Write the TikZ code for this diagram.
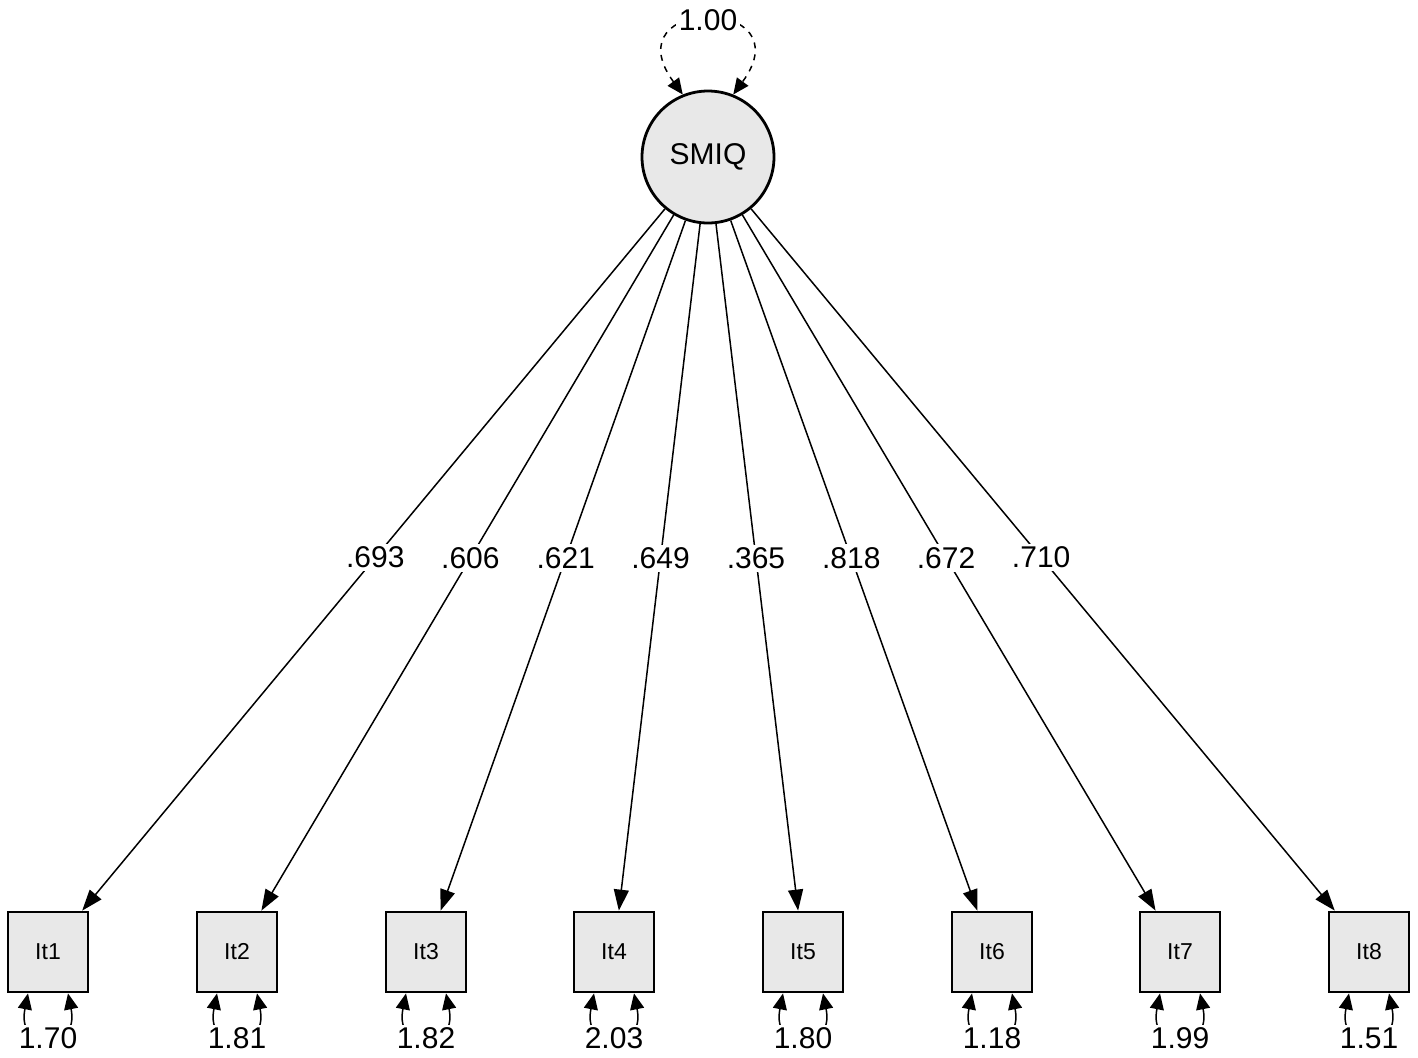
\documentclass[tikz,border=0pt]{standalone}
\usepackage{fontspec}
\setmainfont{Liberation Sans}
\usetikzlibrary{arrows.meta}

\tikzset{
    latent/.style={circle, draw, line width=1.4pt, fill=gray!18, minimum size=66pt, inner sep=0pt, font=\fontsize{15}{17}\selectfont},
    item/.style={rectangle, draw, line width=1.4pt, fill=gray!18, minimum size=40pt, inner sep=0pt, font=\fontsize{11.5}{13}\selectfont},
    loading/.style={line width=0.75pt, -{Triangle[length=10.5pt,width=7.5pt]}},
    coef/.style={fill=white, inner sep=1.5pt, font=\fontsize{15}{17}\selectfont},
    resid/.style={line width=0.75pt, {Triangle[length=8pt,width=7pt]}-{Triangle[length=8pt,width=7pt]}},
}

\begin{document}
\begin{tikzpicture}[x=0.5pt, y=-0.5pt]

    \useasboundingbox (0,0) rectangle (1418,1057);

    % constants
    \def\yitem{952}

    % latent factor
    \node[latent] (SMIQ) at (708,157) {SMIQ};

    % factor variance
    \draw[resid, dashed] (SMIQ.112) .. controls (610,-5) and (806,-5) .. node[coef, pos=0.5] (v0) {1.00} (SMIQ.68);

    % items
    \node[item] (It1) at (48,\yitem) {It1};
    \node[item] (It2) at (237,\yitem) {It2};
    \node[item] (It3) at (426,\yitem) {It3};
    \node[item] (It4) at (614,\yitem) {It4};
    \node[item] (It5) at (803,\yitem) {It5};
    \node[item] (It6) at (992,\yitem) {It6};
    \node[item] (It7) at (1180,\yitem) {It7};
    \node[item] (It8) at (1369,\yitem) {It8};

    % loadings
    \draw[loading] (SMIQ) -- node[coef, pos=0.497] (l1) {.693} (It1);
    \draw[loading] (SMIQ) -- node[coef, pos=0.493] (l2) {.606} (It2);
    \draw[loading] (SMIQ) -- node[coef, pos=0.489] (l3) {.621} (It3);
    \draw[loading] (SMIQ) -- node[coef, pos=0.487] (l4) {.649} (It4);
    \draw[loading] (SMIQ) -- node[coef, pos=0.487] (l5) {.365} (It5);
    \draw[loading] (SMIQ) -- node[coef, pos=0.489] (l6) {.818} (It6);
    \draw[loading] (SMIQ) -- node[coef, pos=0.493] (l7) {.672} (It7);
    \draw[loading] (SMIQ) -- node[coef, pos=0.497] (l8) {.710} (It8);

    % error variances
    \draw[resid] ([xshift=-10pt]It1.south) .. controls ([xshift=-16pt,yshift=-30pt]It1.south) and ([xshift=16pt,yshift=-30pt]It1.south) .. node[coef] (e1) {1.70} ([xshift=10pt]It1.south);
    \draw[resid] ([xshift=-10pt]It2.south) .. controls ([xshift=-16pt,yshift=-30pt]It2.south) and ([xshift=16pt,yshift=-30pt]It2.south) .. node[coef] (e2) {1.81} ([xshift=10pt]It2.south);
    \draw[resid] ([xshift=-10pt]It3.south) .. controls ([xshift=-16pt,yshift=-30pt]It3.south) and ([xshift=16pt,yshift=-30pt]It3.south) .. node[coef] (e3) {1.82} ([xshift=10pt]It3.south);
    \draw[resid] ([xshift=-10pt]It4.south) .. controls ([xshift=-16pt,yshift=-30pt]It4.south) and ([xshift=16pt,yshift=-30pt]It4.south) .. node[coef] (e4) {2.03} ([xshift=10pt]It4.south);
    \draw[resid] ([xshift=-10pt]It5.south) .. controls ([xshift=-16pt,yshift=-30pt]It5.south) and ([xshift=16pt,yshift=-30pt]It5.south) .. node[coef] (e5) {1.80} ([xshift=10pt]It5.south);
    \draw[resid] ([xshift=-10pt]It6.south) .. controls ([xshift=-16pt,yshift=-30pt]It6.south) and ([xshift=16pt,yshift=-30pt]It6.south) .. node[coef] (e6) {1.18} ([xshift=10pt]It6.south);
    \draw[resid] ([xshift=-10pt]It7.south) .. controls ([xshift=-16pt,yshift=-30pt]It7.south) and ([xshift=16pt,yshift=-30pt]It7.south) .. node[coef] (e7) {1.99} ([xshift=10pt]It7.south);
    \draw[resid] ([xshift=-10pt]It8.south) .. controls ([xshift=-16pt,yshift=-30pt]It8.south) and ([xshift=16pt,yshift=-30pt]It8.south) .. node[coef] (e8) {1.51} ([xshift=10pt]It8.south);

\end{tikzpicture}
\end{document}
